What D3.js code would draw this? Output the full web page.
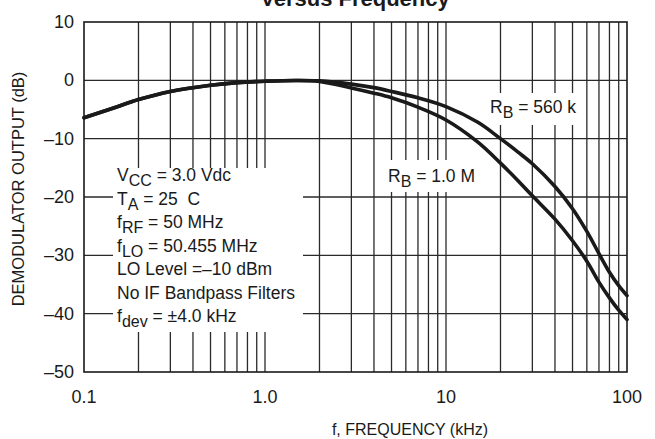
<!DOCTYPE html>
<html>
<head>
<meta charset="utf-8">
<script src="https://cdn.jsdelivr.net/npm/d3@7"></script>
<style>
  body { margin: 0; background: #fff; }
  text { font-family: "Liberation Sans", Arial, sans-serif; fill: #1a1a1a; }
</style>
</head>
<body>
<div id="chart"></div>
<script>
// frequency in kHz
var freqs = [0.1, 0.15, 0.2, 0.3, 0.5, 0.7, 1.0, 1.5, 2, 3, 4, 5, 7, 10, 15, 20, 25, 30, 40, 50, 60, 70, 80, 90, 100];
// demodulator output (dB), one list per RB
var out560k = [-6.4, -4.6, -3.3, -1.9, -0.85, -0.4, -0.15, -0.02, -0.1, -0.65, -1.25, -1.9, -3.0, -4.5, -7.2, -10.0, -12.3, -14.3, -18.2, -22.0, -25.9, -29.7, -32.9, -35.2, -36.9];
var out1M = [-6.4, -4.6, -3.3, -1.9, -0.85, -0.4, -0.15, -0.02, -0.2, -1.3, -2.2, -3.0, -4.6, -6.8, -10.6, -14.2, -17.2, -19.8, -23.8, -27.5, -31.0, -34.6, -37.3, -39.4, -41.0];

var xTickVals = [0.1, 1, 10, 100];
var xTickLabels = ["0.1", "1.0", "10", "100"];
var yTickVals = [10, 0, -10, -20, -30, -40, -50];
var yTickLabels = ["10", "0", "\u201310", "\u201320", "\u201330", "\u201340", "\u201350"];

var noteLines = [
    ["V", "CC", " = 3.0 Vdc"],
    ["T", "A", " = 25  C"],
    ["f", "RF", " = 50 MHz"],
    ["f", "LO", " = 50.455 MHz"],
    ["LO Level =\u201310 dBm", "", ""],
    ["No IF Bandpass Filters", "", ""],
    ["f", "dev", " = \u00b14.0 kHz"]
];

function init() {

    var w = 655;
    var h = 439;
    var left = 84, right = 627, top = 22, bottom = 372;

    var x = d3.scaleLog()
                .domain([0.1, 100])
                .range([left, right]);

    var y = d3.scaleLinear()
                .domain([-50, 10])
                .range([bottom, top]);

    var svg = d3.select("#chart")
                .append("svg")
                .attr("width", w)
                .attr("height", h);

    // grid lines (minor decades + dB steps)
    var vGrid = [];
    [0.1, 1, 10].forEach(function(d) {
        for (var k = 2; k <= 10; k++) { vGrid.push(d * k); }
    });
    vGrid.pop();

    svg.append("g").selectAll("line")
        .data(vGrid)
        .enter()
        .append("line")
        .attr("x1", function(d) { return x(d); })
        .attr("x2", function(d) { return x(d); })
        .attr("y1", top)
        .attr("y2", bottom)
        .style("stroke", "#2a2a2a")
        .style("stroke-width", 1.3);

    svg.append("g").selectAll("line")
        .data([0, -10, -20, -30, -40])
        .enter()
        .append("line")
        .attr("x1", left)
        .attr("x2", right)
        .attr("y1", function(d) { return y(d); })
        .attr("y2", function(d) { return y(d); })
        .style("stroke", "#2a2a2a")
        .style("stroke-width", 1.3);

    // white boxes behind the notes
    svg.append("rect").attr("x", 113).attr("y", 168).attr("width", 190).attr("height", 164).style("fill", "#fff");
    svg.append("rect").attr("x", 385).attr("y", 160).attr("width", 92).attr("height", 32).style("fill", "#fff");
    svg.append("rect").attr("x", 487).attr("y", 93).attr("width", 94).attr("height", 32).style("fill", "#fff");

    // frame
    svg.append("rect")
        .attr("x", left)
        .attr("y", top)
        .attr("width", right - left)
        .attr("height", bottom - top)
        .style("fill", "none")
        .style("stroke", "#1a1a1a")
        .style("stroke-width", 1.6);

    // curves
    var line = d3.line()
                .x(function(d) { return x(d[0]); })
                .y(function(d) { return y(d[1]); })
                .curve(d3.curveCatmullRom.alpha(0.5));

    [out560k, out1M].forEach(function(series) {
        svg.append("path")
            .datum(freqs.map(function(f, i) { return [f, series[i]]; }))
            .attr("d", line)
            .style("fill", "none")
            .style("stroke", "#1a1a1a")
            .style("stroke-width", 3.6)
            .style("stroke-linecap", "round");
    });

    // tick labels
    svg.selectAll(".xt")
        .data(xTickVals)
        .enter()
        .append("text")
        .attr("class", "xt")
        .attr("x", function(d) { return x(d); })
        .attr("y", 403)
        .attr("text-anchor", "middle")
        .style("font-size", "18px")
        .text(function(d, i) { return xTickLabels[i]; });

    svg.selectAll(".yt")
        .data(yTickVals)
        .enter()
        .append("text")
        .attr("class", "yt")
        .attr("x", 74)
        .attr("y", function(d) { return y(d) + 6; })
        .attr("text-anchor", "end")
        .style("font-size", "18px")
        .text(function(d, i) { return yTickLabels[i]; });

    // axis titles
    svg.append("text")
        .attr("x", 410)
        .attr("y", 435)
        .attr("text-anchor", "middle")
        .style("font-size", "16px")
        .text("f, FREQUENCY (kHz)");

    svg.append("text")
        .attr("transform", "translate(24,189) rotate(-90)")
        .attr("text-anchor", "middle")
        .style("font-size", "16.5px")
        .text("DEMODULATOR OUTPUT (dB)");

    // chart title (cut at the top)
    svg.append("text")
        .attr("x", 355)
        .attr("y", 6)
        .attr("text-anchor", "middle")
        .style("font-size", "22px")
        .style("font-weight", "bold")
        .text("Versus Frequency");

    // conditions block
    noteLines.forEach(function(parts, i) {
        var t = svg.append("text")
            .attr("x", 117)
            .attr("y", 181 + i * 23.5)
            .style("font-size", "17.5px")
            .style("white-space", "pre");
        t.append("tspan").text(parts[0]);
        if (parts[1]) {
            t.append("tspan").attr("dy", 5).style("font-size", "16px").text(parts[1]);
            t.append("tspan").attr("dy", -5).text(parts[2]);
        }
    });

    // curve labels
    function rbLabel(px, py, val) {
        var t = svg.append("text")
            .attr("x", px)
            .attr("y", py)
            .style("font-size", "17.5px");
        t.append("tspan").text("R");
        t.append("tspan").attr("dy", 5).style("font-size", "16px").text("B");
        t.append("tspan").attr("dy", -5).text(" = " + val);
    }
    rbLabel(490, 113, "560 k");
    rbLabel(388, 182, "1.0 M");
}

window.onload = init;
</script>
</body>
</html>
